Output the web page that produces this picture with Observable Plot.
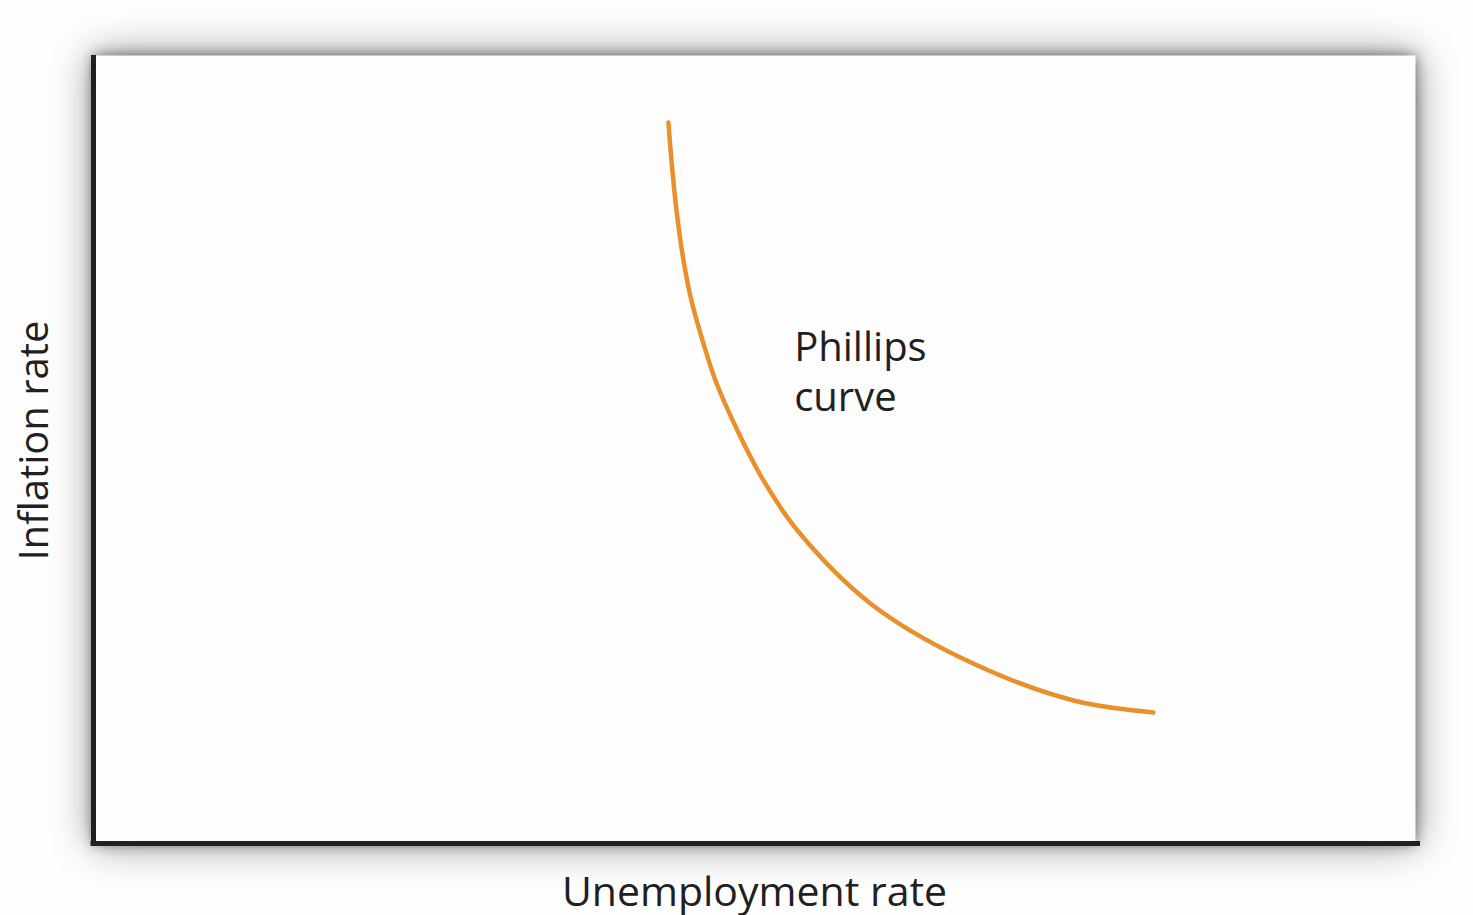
<!DOCTYPE html>
<html>
<head>
<meta charset="utf-8">
<script src="https://cdn.jsdelivr.net/npm/d3@7"></script>
<script src="https://cdn.jsdelivr.net/npm/@observablehq/plot@0.6"></script>
<style>
  html, body { margin: 0; padding: 0; background: #fefefe; }
  #chart svg { display: block; }
  #chart svg [aria-label="frame"] { filter: drop-shadow(0 0 7px rgba(0,0,0,0.5)) drop-shadow(0 0 20px rgba(0,0,0,0.42)); }
</style>
</head>
<body>
<div id="chart"></div>
<script>
// Phillips curve (schematic, in unit-less 0–100 coordinates)
const unemployment = [43.49, 43.72, 44.10, 44.63, 45.23, 46.07, 47.05, 48.71, 50.68, 53.25, 58.77, 65.58, 74.13, 80.18];
const inflation    = [91.50, 86.68, 80.33, 73.98, 68.91, 63.83, 58.76, 52.41, 46.07, 39.72, 30.46, 23.60, 18.15, 16.62];
const curveLabel = ["Phillips\ncurve"];
const xLabel = ["Unemployment rate"];
const yLabel = ["Inflation rate"];

const data = unemployment.map((u, i) => ({u, p: inflation[i]}));
const font = "'Open Sans', 'Noto Sans', sans-serif";

const chart = Plot.plot({
  width: 1473,
  height: 915,
  marginLeft: 93,
  marginRight: 58,
  marginTop: 55,
  marginBottom: 72,
  style: {fontFamily: font, background: "transparent", overflow: "visible"},
  x: {domain: [0, 100], axis: null},
  y: {domain: [0, 100], axis: null},
  marks: [
    Plot.frame({fill: "#fdfdfd", stroke: "none"}),
    Plot.line(data, {x: "u", y: "p", curve: "catmull-rom", stroke: "#e8912c", strokeWidth: 4.5}),
    Plot.text(curveLabel, {x: 53.0, y: 65.8, text: d => d, textAnchor: "start", lineAnchor: "top",
      lineHeight: 1.26, fontSize: 40, fill: "#231f20"}),
    Plot.ruleX([0], {stroke: "#231f20", strokeWidth: 5, y1: 0, y2: 100, insetTop: -2}),
    Plot.ruleY([0], {stroke: "#231f20", strokeWidth: 5, x1: 0, x2: 100, insetLeft: -2.5, insetRight: -5}),
    Plot.text(xLabel, {frameAnchor: "bottom", dy: 62, text: d => d, fontSize: 41, fill: "#231f20"}),
    Plot.text(yLabel, {frameAnchor: "left", textAnchor: "middle", dx: -58, dy: -9, rotate: -90, text: d => d, fontSize: 40, fill: "#231f20"})
  ]
});
document.getElementById("chart").appendChild(chart);
</script>
</body>
</html>
